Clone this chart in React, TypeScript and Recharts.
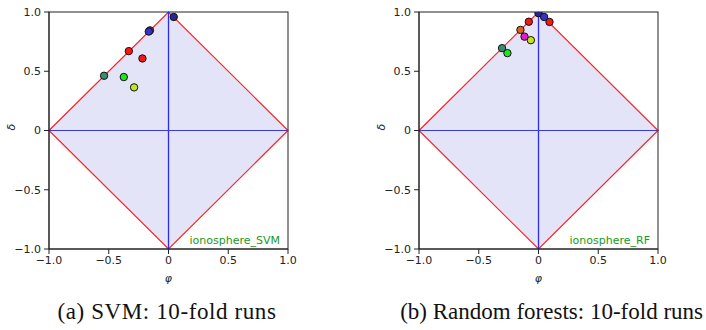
import { ScatterChart, Scatter, XAxis, YAxis, ReferenceArea, ReferenceLine } from "recharts";

// axis ticks shared by both panels
const ticks = [-1, -0.5, 0, 0.5, 1];
const tickLabels = ["\u22121.0", "\u22120.5", "0", "0.5", "1.0"];

// one colour per fold run
const runColors = [
  "#2c2590", "#3434c8", "#8a1fa0", "#ff1414", "#f01818",
  "#dc6418", "#e01ccc", "#c4e41c", "#3a8c6e", "#1ee61e",
];

// SVM, 10-fold runs
const svmPhi = [0.044, -0.155, -0.165, -0.332, -0.218, -0.539, -0.374, -0.288];
const svmDelta = [0.958, 0.845, 0.835, 0.67, 0.608, 0.462, 0.451, 0.364];
const svmRun = [0, 2, 1, 3, 4, 8, 9, 7];

// Random forests, 10-fold runs
const rfPhi = [0.0, 0.047, 0.092, -0.081, -0.151, -0.117, -0.064, -0.305, -0.26];
const rfDelta = [0.99, 0.958, 0.916, 0.918, 0.849, 0.792, 0.762, 0.695, 0.653];
const rfRun = [0, 1, 3, 4, 5, 6, 7, 8, 9];

const toPoints = (phi: number[], delta: number[], run: number[]) =>
  phi.map((p, i) => ({ phi: p, delta: delta[i], color: runColors[run[i]] }));

const fmt = (v: number) => tickLabels[ticks.indexOf(v)] ?? String(v);

const tickStyle = { fontFamily: "DejaVu Sans", fontSize: 11, fill: "#222" };

function Panel({ data, tag }: { data: any[]; tag: string }) {
  const Diamond = (props: any) => {
    const { x, y, width, height } = props;
    const cx = x + width / 2;
    const cy = y + height / 2;
    return (
      <g>
        <polygon
          points={`${x},${cy} ${cx},${y} ${x + width},${cy} ${cx},${y + height}`}
          fill="#e4e4f8"
          stroke="#ff2020"
          strokeWidth={1.2}
        />
        <rect x={x} y={y} width={width} height={height} fill="none" stroke="#222" strokeWidth={1} />
        <text
          x={x + width - 8}
          y={y + height - 5}
          textAnchor="end"
          fill="#1a9a1a"
          fontFamily="DejaVu Sans"
          fontSize={11}
        >
          {tag}
        </text>
      </g>
    );
  };

  return (
    <ScatterChart width={300} height={292} margin={{ top: 12, right: 12, left: 9, bottom: 9 }}>
      <XAxis
        type="number"
        dataKey="phi"
        domain={[-1, 1]}
        ticks={ticks}
        tickFormatter={fmt}
        tick={tickStyle}
        tickSize={5}
        tickMargin={2}
        height={34}
        stroke="#222"
        allowDataOverflow
        label={{ value: "\u03c6", position: "insideBottom", offset: 1, style: { ...tickStyle, fontStyle: "italic" } }}
      />
      <YAxis
        type="number"
        dataKey="delta"
        domain={[-1, 1]}
        ticks={ticks}
        tickFormatter={fmt}
        tick={tickStyle}
        tickSize={5}
        tickMargin={3}
        width={40}
        stroke="#222"
        allowDataOverflow
        label={{ value: "\u03b4", angle: -90, position: "insideLeft", offset: 2, style: { ...tickStyle, fontStyle: "italic" } }}
      />
      <ReferenceArea x1={-1} x2={1} y1={-1} y2={1} shape={Diamond} ifOverflow="visible" />
      <ReferenceLine x={0} stroke="#2a2aff" strokeWidth={1.3} />
      <ReferenceLine y={0} stroke="#3a3ad8" strokeWidth={1} />
      <Scatter
        data={data}
        isAnimationActive={false}
        shape={(p: any) => (
          <circle cx={p.cx} cy={p.cy} r={3.7} fill={p.payload.color} stroke="#111" strokeWidth={1} />
        )}
      />
    </ScatterChart>
  );
}

const captionStyle: any = {
  position: "absolute",
  top: 299,
  fontFamily: "Liberation Serif",
  fontSize: 23,
  color: "#111",
  whiteSpace: "nowrap",
};

export default function App() {
  return (
    <div style={{ position: "absolute", left: 0, top: 0, width: 706, height: 330, background: "#fff", overflow: "hidden" }}>
      <div style={{ position: "absolute", left: 0, top: 0 }}>
        <Panel data={toPoints(svmPhi, svmDelta, svmRun)} tag="ionosphere_SVM" />
      </div>
      <div style={{ position: "absolute", left: 370, top: 0 }}>
        <Panel data={toPoints(rfPhi, rfDelta, rfRun)} tag="ionosphere_RF" />
      </div>
      <div style={{ ...captionStyle, left: 17, width: 300, textAlign: "center", letterSpacing: 0.6 }}>
        (a) SVM: 10-fold runs
      </div>
      <div style={{ ...captionStyle, right: 3, textAlign: "right" }}>(b) Random forests: 10-fold runs</div>
    </div>
  );
}
